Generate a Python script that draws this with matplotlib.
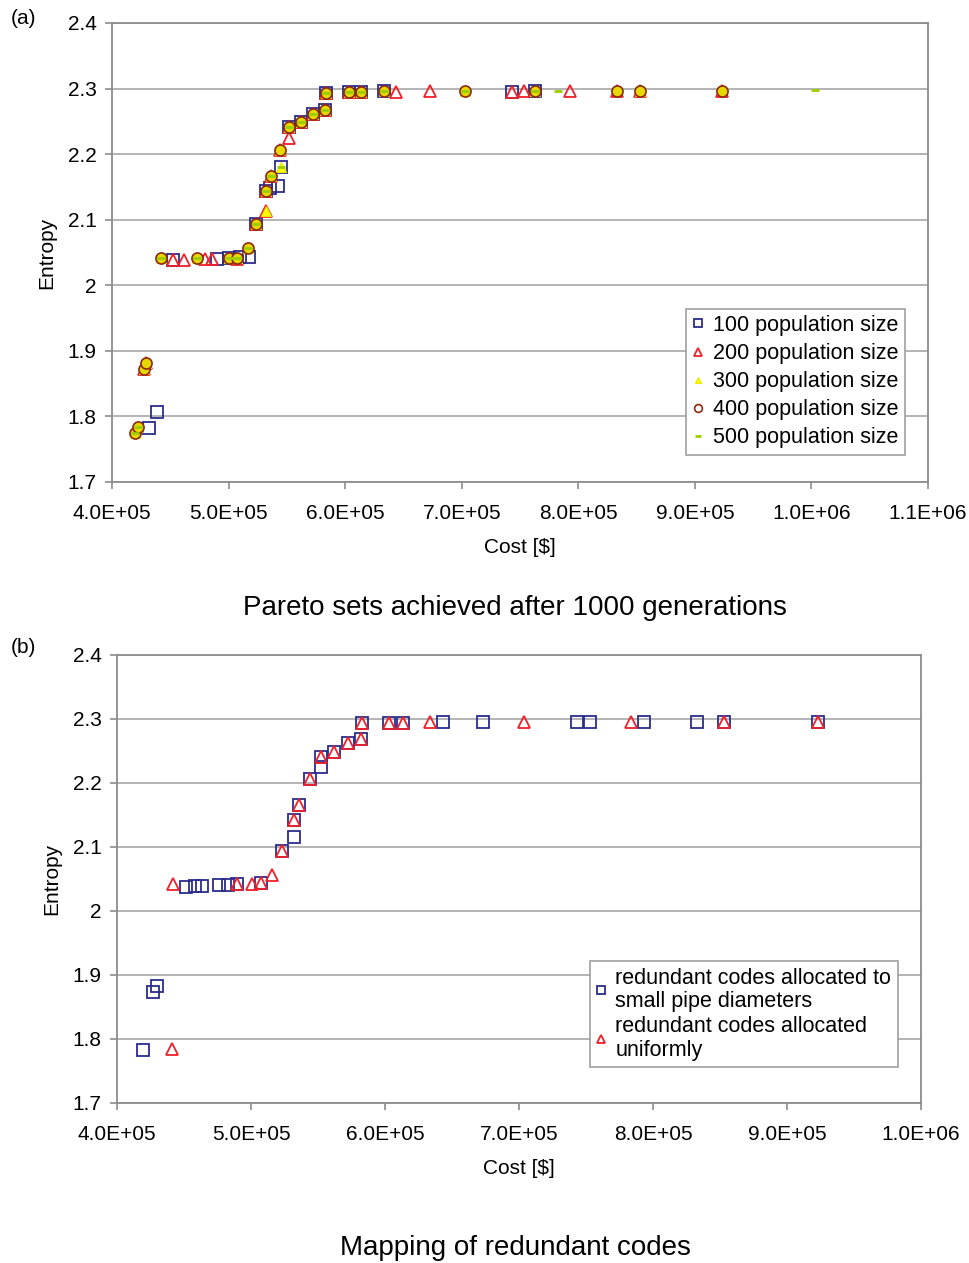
import numpy as np
from matplotlib import pyplot as plt
from matplotlib.ticker import FuncFormatter, MultipleLocator

# ---- panel (a): Pareto sets after 1000 generations ----
cost_100 = [4.32e5, 4.383e5, 4.526e5, 4.90e5, 5.00e5, 5.10e5, 5.178e5, 5.232e5, 5.32e5,
            5.355e5, 5.426e5, 5.449e5, 5.521e5, 5.618e5, 5.72e5, 5.826e5, 5.835e5,
            6.033e5, 6.133e5, 6.333e5, 7.43e5, 7.63e5]
ent_100 = [1.782, 1.806, 2.038, 2.040, 2.042, 2.043, 2.043, 2.093, 2.143,
           2.149, 2.151, 2.181, 2.242, 2.249, 2.261, 2.268, 2.293,
           2.294, 2.295, 2.296, 2.295, 2.296]

cost_200 = [4.27e5, 4.295e5, 4.526e5, 4.62e5, 4.80e5, 4.86e5, 5.07e5, 5.232e5, 5.323e5,
            5.32e5, 5.364e5, 5.441e5, 5.521e5, 5.521e5, 5.618e5, 5.72e5, 5.826e5,
            5.835e5, 6.033e5, 6.133e5, 6.436e5, 6.73e5, 7.43e5, 7.53e5, 7.93e5,
            8.33e5, 8.53e5, 9.23e5]
ent_200 = [1.873, 1.882, 2.038, 2.038, 2.040, 2.040, 2.040, 2.093, 2.114,
           2.143, 2.166, 2.206, 2.224, 2.242, 2.249, 2.261, 2.268,
           2.293, 2.294, 2.295, 2.295, 2.296, 2.295, 2.296, 2.296,
           2.296, 2.296, 2.296]

cost_300 = [4.197e5, 4.223e5, 4.27e5, 4.295e5, 4.42e5, 4.726e5, 5.006e5, 5.069e5, 5.164e5,
            5.232e5, 5.323e5, 5.32e5, 5.364e5, 5.441e5, 5.449e5, 5.521e5, 5.618e5, 5.72e5,
            5.826e5, 5.835e5, 6.033e5, 6.133e5, 6.333e5, 7.03e5, 7.63e5, 8.53e5]
ent_300 = [1.775, 1.784, 1.873, 1.882, 2.042, 2.042, 2.042, 2.042, 2.057,
           2.093, 2.114, 2.143, 2.166, 2.206, 2.181, 2.242, 2.249, 2.261,
           2.268, 2.293, 2.294, 2.295, 2.296, 2.296, 2.296, 2.296]

cost_400 = [4.197e5, 4.223e5, 4.27e5, 4.295e5, 4.42e5, 4.726e5, 5.006e5, 5.069e5, 5.164e5,
            5.232e5, 5.32e5, 5.364e5, 5.441e5, 5.521e5, 5.618e5, 5.72e5, 5.826e5,
            5.835e5, 6.033e5, 6.133e5, 6.333e5, 7.03e5, 7.63e5, 8.33e5, 8.53e5, 9.23e5]
ent_400 = [1.775, 1.784, 1.873, 1.882, 2.042, 2.042, 2.042, 2.042, 2.057,
           2.093, 2.143, 2.166, 2.206, 2.242, 2.249, 2.261, 2.268,
           2.293, 2.294, 2.295, 2.296, 2.296, 2.296, 2.296, 2.296, 2.296]

cost_500 = [4.197e5, 4.223e5, 4.42e5, 4.726e5, 5.006e5, 5.069e5, 5.164e5, 5.232e5,
            5.32e5, 5.364e5, 5.449e5, 5.521e5, 5.618e5, 5.72e5, 5.826e5, 5.835e5,
            6.033e5, 6.133e5, 6.333e5, 7.03e5, 7.63e5, 7.83e5, 1.003e6]
ent_500 = [1.775, 1.784, 2.042, 2.042, 2.042, 2.042, 2.057, 2.093,
           2.143, 2.166, 2.181, 2.242, 2.249, 2.261, 2.268, 2.293,
           2.294, 2.295, 2.296, 2.296, 2.296, 2.296, 2.298]

# ---- panel (b): mapping of redundant codes ----
cost_small = [4.197e5, 4.267e5, 4.301e5, 4.516e5, 4.583e5, 4.638e5, 4.762e5, 4.827e5,
              4.894e5, 5.074e5, 5.231e5, 5.318e5, 5.318e5, 5.36e5, 5.442e5, 5.522e5,
              5.522e5, 5.622e5, 5.721e5, 5.821e5, 5.829e5, 6.028e5, 6.132e5, 6.431e5,
              6.73e5, 7.43e5, 7.53e5, 7.933e5, 8.33e5, 8.531e5, 9.234e5]
ent_small = [1.783, 1.874, 1.883, 2.038, 2.039, 2.039, 2.041, 2.041,
             2.042, 2.043, 2.093, 2.116, 2.142, 2.166, 2.206, 2.225,
             2.241, 2.248, 2.262, 2.268, 2.293, 2.294, 2.294, 2.296,
             2.296, 2.296, 2.296, 2.296, 2.296, 2.296, 2.296]

cost_unif = [4.409e5, 4.416e5, 4.894e5, 5.007e5, 5.074e5, 5.156e5, 5.231e5, 5.318e5,
             5.36e5, 5.442e5, 5.522e5, 5.622e5, 5.721e5, 5.821e5, 5.829e5, 6.028e5,
             6.132e5, 6.334e5, 7.037e5, 7.834e5, 8.531e5, 9.234e5]
ent_unif = [1.784, 2.042, 2.042, 2.042, 2.043, 2.056, 2.093, 2.142,
            2.166, 2.206, 2.241, 2.248, 2.262, 2.268, 2.293, 2.294,
            2.294, 2.296, 2.296, 2.296, 2.296, 2.296]

FONT = 'Liberation Sans'
plt.rcParams['font.family'] = [FONT, 'DejaVu Sans']
GRAY = '#8c8c8c'
BLUE = '#2b2c8c'
RED = '#f0202a'
FS = 15


def style_axes(ax, xmax):
    ax.set_xlim(4e5, xmax)
    ax.set_ylim(1.7, 2.4)
    ax.xaxis.set_major_locator(MultipleLocator(1e5))
    ax.yaxis.set_major_locator(MultipleLocator(0.1))
    ax.xaxis.set_major_formatter(FuncFormatter(lambda v, p: f'{v:.1E}'))
    ax.yaxis.set_major_formatter(FuncFormatter(lambda v, p: f'{round(v, 1):g}'))
    ax.grid(axis='y', color='#a8a8a8', lw=1.2)
    ax.set_axisbelow(True)
    for s in ax.spines.values():
        s.set_color(GRAY)
        s.set_linewidth(1.3)
    ax.tick_params(direction='out', length=5, width=1.2, color=GRAY, labelsize=FS)
    ax.tick_params(axis='x', pad=11)
    ax.tick_params(axis='y', pad=6)
    ax.set_xlabel('Cost [$]', fontsize=FS, labelpad=11)
    ax.set_ylabel('Entropy', fontsize=FS, labelpad=8)


fig = plt.figure(figsize=(9.7, 12.63), dpi=100)

# panel (a)
ax1 = fig.add_axes([0.1155, 0.6184, 0.8412, 0.3634])
ms = 8
ax1.plot(cost_100, ent_100, ls='none', marker='s', ms=ms, mfc='none', mec=BLUE, mew=1.3,
         label='100 population size')
ax1.plot(cost_200, ent_200, ls='none', marker='^', ms=ms + 1, mfc='none', mec=RED, mew=1.3,
         label='200 population size')
ax1.plot(cost_300, ent_300, ls='none', marker='^', ms=6.5, mfc='#ffff00', mec='#e8e800', mew=0.8,
         label='300 population size')
ax1.plot(cost_400, ent_400, ls='none', marker='o', ms=8, mfc='#e6d800', mec='#8a2a10', mew=1.2,
         label='400 population size')
ax1.plot(cost_500, ent_500, ls='none', marker='_', ms=6, mec='#9acd00', mew=2,
         label='500 population size')
style_axes(ax1, 1.1e6)
leg1 = ax1.legend(loc='lower right', bbox_to_anchor=(0.972, 0.059), fontsize=15.5,
                  frameon=True, fancybox=False, edgecolor='#a0a0a0', framealpha=1,
                  handlelength=0.5, handletextpad=0.45, borderpad=0.3, labelspacing=0.33,
                  borderaxespad=0, markerscale=0.7)
leg1.get_frame().set_linewidth(1.2)
# legend 400 handle is an open circle
leg1.legend_handles[3].set_markerfacecolor('none')

fig.text(0.011, 0.9857, '(a)', fontsize=FS, ha='left', va='center')
fig.text(0.531, 0.519, 'Pareto sets achieved after 1000 generations', fontsize=20,
         ha='center', va='center')

# panel (b)
ax2 = fig.add_axes([0.1206, 0.1267, 0.8289, 0.3547])
ax2.plot(cost_small, ent_small, ls='none', marker='s', ms=ms, mfc='none', mec=BLUE, mew=1.3,
         label='redundant codes allocated to\nsmall pipe diameters')
ax2.plot(cost_unif, ent_unif, ls='none', marker='^', ms=ms + 1, mfc='none', mec=RED, mew=1.3,
         label='redundant codes allocated\nuniformly')
style_axes(ax2, 1.0e6)
leg2 = ax2.legend(loc='lower right', bbox_to_anchor=(0.971, 0.080), fontsize=15.5,
                  frameon=True, fancybox=False, edgecolor='#a0a0a0', framealpha=1,
                  handlelength=0.5, handletextpad=0.4, borderpad=0.3, labelspacing=0.2,
                  borderaxespad=0, markerscale=0.7)
leg2.get_frame().set_linewidth(1.2)
for t in leg2.get_texts():
    t.set_linespacing(1.15)

fig.text(0.011, 0.4877, '(b)', fontsize=FS, ha='left', va='center')
fig.text(0.531, 0.0118, 'Mapping of redundant codes', fontsize=20,
         ha='center', va='center')

fig.savefig('out.png', dpi=100)
